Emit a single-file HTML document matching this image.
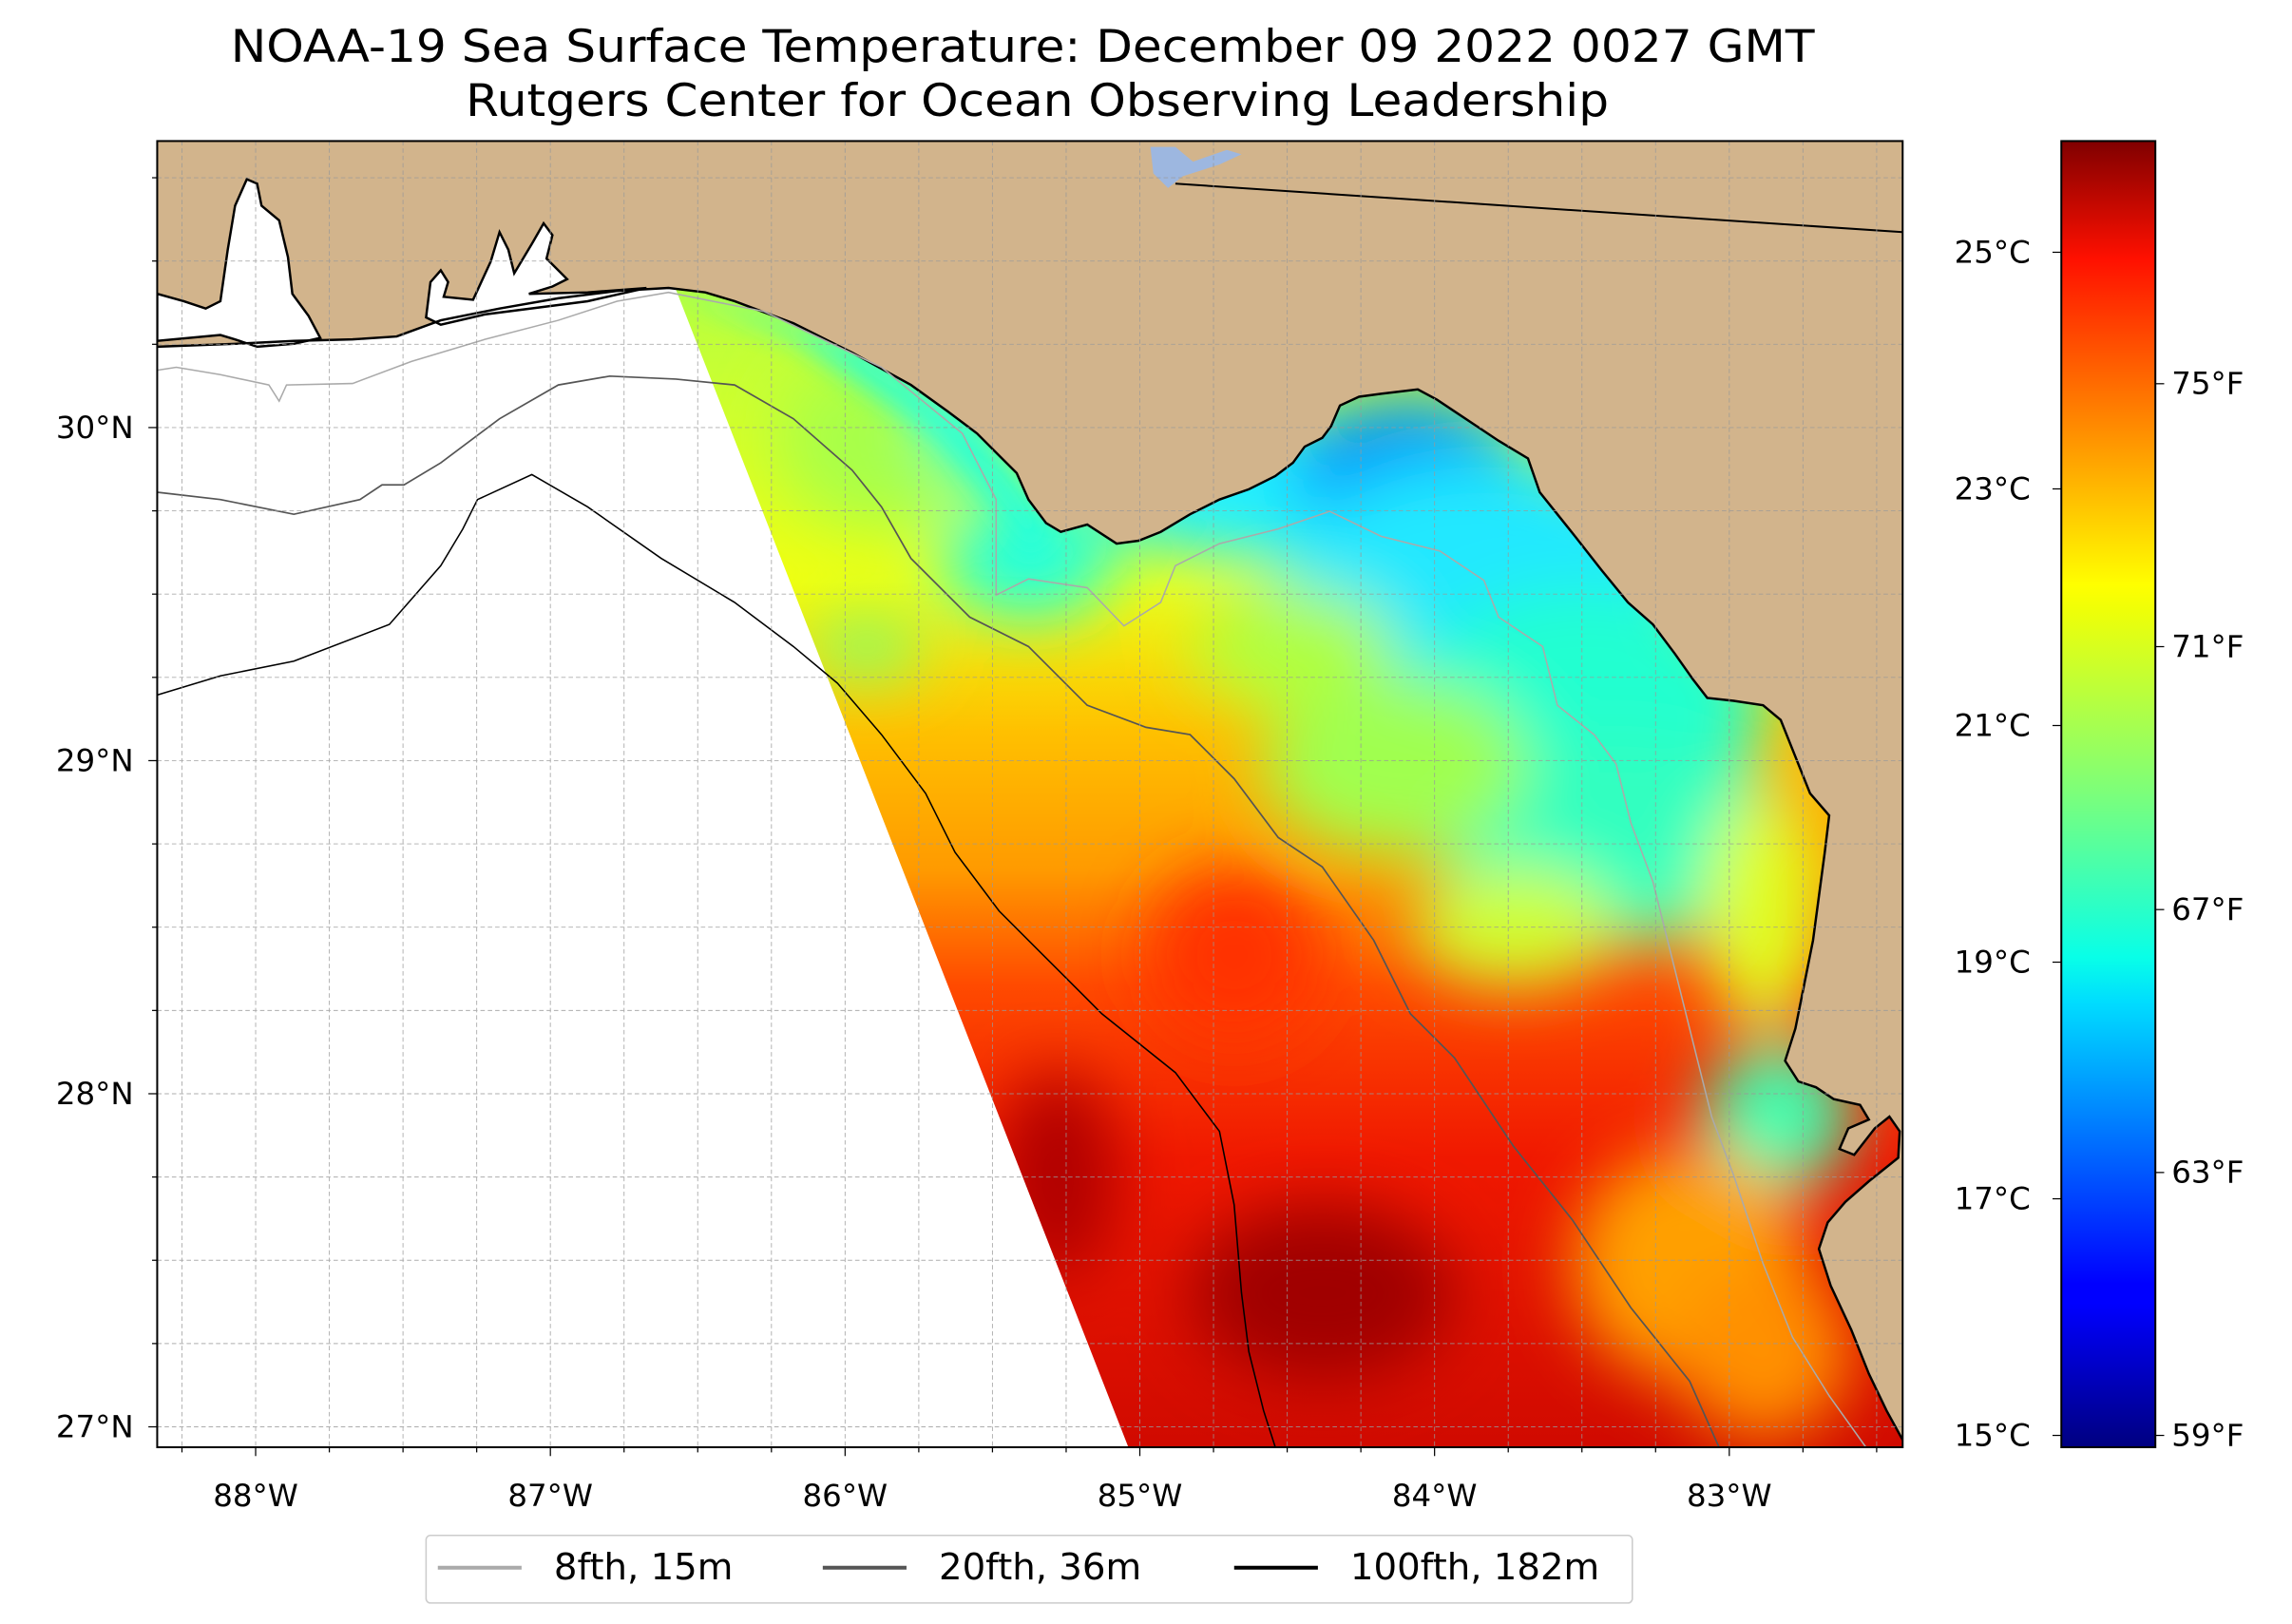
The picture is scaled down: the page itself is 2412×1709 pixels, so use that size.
<!DOCTYPE html>
<html><head><meta charset="utf-8"><style>
html,body{margin:0;padding:0;background:#fff;}
svg{display:block;}
text{font-family:"DejaVu Sans","Liberation Sans",sans-serif;fill:#000;}
</style></head><body>
<svg id="fig" xmlns="http://www.w3.org/2000/svg" width="2412" height="1709" viewBox="0 0 1560 1105.3" preserveAspectRatio="none">
<defs>
<linearGradient id="jet" x1="0" y1="1" x2="0" y2="0">
<stop offset="0" stop-color="#000080"/><stop offset="0.11" stop-color="#0000ff"/><stop offset="0.125" stop-color="#0000ff"/>
<stop offset="0.34" stop-color="#00dcff"/><stop offset="0.375" stop-color="#08ffe8"/><stop offset="0.5" stop-color="#7bff7b"/>
<stop offset="0.64" stop-color="#eeff08"/><stop offset="0.66" stop-color="#ffff00"/><stop offset="0.78" stop-color="#ff8c00"/>
<stop offset="0.91" stop-color="#ff1000"/><stop offset="1" stop-color="#800000"/>
</linearGradient>
<linearGradient id="seaBase" gradientUnits="userSpaceOnUse" x1="0" y1="200" x2="0" y2="985">
<stop offset="0" stop-color="#b8ff40"/><stop offset="0.25" stop-color="#f0ff10"/><stop offset="0.38" stop-color="#ffc000"/>
<stop offset="0.5" stop-color="#ff9a00"/><stop offset="0.6" stop-color="#ff4a00"/><stop offset="0.75" stop-color="#f01800"/><stop offset="1" stop-color="#d00a00"/>
</linearGradient>
<filter id="blur" x="-20%" y="-20%" width="140%" height="140%"><feGaussianBlur stdDeviation="22"/></filter>
<filter id="blur2" x="-20%" y="-20%" width="140%" height="140%"><feGaussianBlur stdDeviation="9"/></filter>
<clipPath id="frameClip"><rect x="107" y="96" width="1188" height="889"/></clipPath>
<clipPath id="swathClip"><path id="swathPath"/></clipPath>
</defs>
<g id="titles">
<text x="696" y="42" font-size="30.5" text-anchor="middle" textLength="1078" lengthAdjust="spacingAndGlyphs">NOAA-19 Sea Surface Temperature: December 09 2022 0027 GMT</text>
<text x="706" y="79" font-size="30.5" text-anchor="middle" textLength="778" lengthAdjust="spacingAndGlyphs">Rutgers Center for Ocean Observing Leadership</text>
</g>
<g id="map" clip-path="url(#frameClip)"></g>
<rect x="107" y="96" width="1188" height="889" fill="none" stroke="#000" stroke-width="1.3"/>
<g id="axes"></g>
<g id="cbar">
<rect x="1403" y="96" width="64" height="889" fill="url(#jet)" stroke="#000" stroke-width="1.3"/>
</g>
<g id="legend">
<rect x="290" y="1045" width="821" height="46" rx="3" fill="#fff" stroke="#ccc" stroke-width="1"/>
</g>
</svg>
<script>
const NS='http://www.w3.org/2000/svg';
// axis data
const lonTicks=[-88,-87,-86,-85,-84,-83];
const lonLabels=['88°W','87°W','86°W','85°W','84°W','83°W'];
const latTicks=[27,28,29,30];
const latLabels=['27°N','28°N','29°N','30°N'];
const cTicks=[15,17,19,21,23,25];
const cLabels=['15°C','17°C','19°C','21°C','23°C','25°C'];
const fTicks=[59,63,67,71,75];
const fLabels=['59°F','63°F','67°F','71°F','75°F'];
const legendNames=['8fth, 15m','20fth, 36m','100fth, 182m'];
const legendColors=['#aaaaaa','#555555','#000000'];
const cMin=14.9, cMax=25.94;

function xOf(lon){return 174+(lon+88)*200.6;}
function yOf(lat){return 291-(lat-30)*226.7;}
function cY(c){return 985-(c-cMin)/(cMax-cMin)*889;}

function mk(tag,attrs,parent){const e=document.createElementNS(NS,tag);for(const k in attrs)e.setAttribute(k,attrs[k]);parent.appendChild(e);return e;}
function pts(a){return a.map(p=>p.join(',')).join(' ');}

const coastEast=[[455,196],[480,199],[500,205],[540,220],[580,240],[620,262],[645,280],[665,295],[680,310],[692,322],[700,340],[712,356],[722,362],[740,357],[760,370],[775,368],[790,362],[810,350],[830,340],[850,333],[868,324],[880,315],[888,304],[900,298],[906,290],[912,276],[925,270],[940,268],[965,265],[978,272],[990,280],[1005,290],[1020,300],[1040,312],[1048,335],[1060,350],[1072,365],[1090,388],[1108,410],[1125,425],[1140,445],[1152,462],[1162,475],[1180,477],[1200,480],[1212,490],[1222,515],[1232,540],[1245,555],[1242,580],[1238,610],[1234,640],[1228,670],[1222,700],[1215,722],[1224,736],[1236,740],[1248,748],[1266,752],[1272,762],[1258,768],[1252,782],[1262,786],[1276,768],[1286,760],[1293,770],[1292,788],[1272,804],[1256,818],[1244,832],[1238,850],[1246,875],[1260,905],[1272,935],[1284,960],[1295,980]];
const coastWest=[[107,236],[160,234],[200,232],[240,231],[270,229],[300,218],[340,210],[380,203],[420,198],[455,196]];
const mobileBay=[[107,200],[125,205],[140,210],[150,205],[155,170],[160,140],[168,122],[175,125],[178,140],[190,150],[196,175],[199,200],[210,215],[218,230],[200,234],[175,236],[160,231],[150,228],[107,232]];
const pensacolaBay=[[290,216],[293,192],[300,184],[305,192],[302,202],[322,204],[334,178],[340,158],[346,170],[350,186],[362,166],[370,152],[376,160],[372,176],[386,190],[376,195],[360,200],[400,199],[440,196],[400,205],[330,214],[300,221]];
const stateLine=[[800,125],[1295,158]];
const lake=[[783,100],[800,100],[812,110],[835,102],[845,105],[830,112],[805,120],[795,128],[785,118]];
const c8=[[107,252],[120,250],[150,255],[183,262],[190,273],[195,262],[240,261],[280,246],[330,231],[380,218],[420,205],[455,199],[520,212],[600,250],[655,295],[678,340],[678,405],[700,394],[740,400],[765,426],[790,410],[800,385],[830,370],[870,360],[905,348],[940,365],[980,375],[1010,395],[1020,420],[1050,440],[1060,480],[1085,500],[1100,520],[1110,560],[1125,600],[1135,640],[1145,680],[1155,720],[1165,760],[1180,800],[1200,860],[1220,910],[1245,950],[1270,985]];
const c20=[[107,335],[150,340],[200,350],[245,340],[260,330],[275,330],[300,315],[340,285],[380,262],[415,256],[460,258],[500,262],[540,285],[580,320],[600,345],[620,380],[660,420],[700,440],[740,480],[780,495],[810,500],[840,530],[870,570],[900,590],[935,640],[960,690],[990,720],[1030,780],[1070,830],[1110,890],[1150,940],[1170,985]];
const c100=[[107,473],[150,460],[200,450],[265,425],[300,385],[315,360],[325,340],[362,323],[400,345],[450,380],[500,410],[540,440],[570,465],[600,500],[630,540],[650,580],[680,620],[710,650],[750,690],[800,730],[830,770],[840,820],[845,880],[850,920],[860,960],[868,985]];
const blobs=[[600,300,70,60,'#a8ff48'],[660,290,30,40,'#40ffc0'],[700,380,60,40,'#20ffe0'],[860,330,120,50,'#20f0ff'],[960,320,80,50,'#0090ff'],[1010,400,140,90,'#20e8ff'],[1080,480,120,80,'#20ffd0'],[1100,570,120,70,'#30ffc0'],[880,440,70,40,'#b0ff40'],[950,520,90,60,'#a0ff50'],[1200,620,40,80,'#e0ff20'],[590,440,40,20,'#80ff70'],[1210,760,50,50,'#40ffb0'],[720,800,40,70,'#b00000'],[900,880,90,60,'#a00000'],[840,650,60,60,'#ff3000'],[1150,860,80,80,'#ffa000'],[1200,920,60,60,'#ff9000'],[1030,630,70,40,'#d0ff30']];

const map=document.getElementById('map');
const landPts=[[107,96],[1295,96],[1295,985]].concat(coastEast.slice().reverse()).concat(coastWest.slice().reverse());
const land=mk('polygon',{points:pts(landPts),fill:'#d2b48c'},map);


const swath=[[460,197]].concat(coastEast.slice(1)).concat([[1295,985],[768,985]]);
document.getElementById('swathPath').setAttribute('d','M'+swath.map(p=>p.join(',')).join('L')+'Z');
const sst=mk('g',{'clip-path':'url(#swathClip)'},map);


mk('rect',{x:400,y:180,width:900,height:810,fill:'url(#seaBase)'},sst);
const bg=mk('g',{filter:'url(#blur)'},sst);
blobs.forEach(b=>{
  const e=mk('ellipse',{cx:b[0],cy:b[1],rx:b[2],ry:b[3],fill:b[4]},bg);
  
  
});
mk('polygon',{points:'455,196 600,238 690,318 720,362 700,380 640,300 540,230',fill:'#20ffe0',filter:'url(#blur2)',opacity:'0.8'},sst);
[mobileBay,pensacolaBay].forEach((b,i)=>{
  const p=mk('polygon',{points:pts(b),fill:'#fff',stroke:'#000','stroke-width':1.6},map);
  
  
});
const lk=mk('polygon',{points:pts(lake),fill:'#9db7e0'},map);


const sl=mk('polyline',{points:pts(stateLine),fill:'none',stroke:'#000','stroke-width':1.3},map);


const cl=mk('polyline',{points:pts(coastWest.concat(coastEast.slice(1))),fill:'none',stroke:'#000','stroke-width':1.6},map);


[[c8,'#aaaaaa',1,'contour-8fth'],[c20,'#555555',1.1,'contour-20fth'],[c100,'#000000',1,'contour-100fth']].forEach(c=>{
  const l=mk('polyline',{points:pts(c[0]),fill:'none',stroke:c[1],'stroke-width':c[2]},map);
  
  
});
const grid=mk('g',{stroke:'#999','stroke-width':0.6,'stroke-dasharray':'3,2',opacity:'0.8'},map);
for(let lon=-88.25;lon<=-82.45;lon+=0.25){const x=xOf(lon);const g=mk('line',{x1:x,y1:96,x2:x,y2:985},grid);}
for(let lat=27;lat<=30.86;lat+=0.25){const y=yOf(lat);const g=mk('line',{x1:107,y1:y,x2:1295,y2:y},grid);}

const ax=document.getElementById('axes');
for(let lon=-88.25;lon<=-82.45;lon+=0.25){const x=xOf(lon);const major=Math.abs(lon-Math.round(lon))<1e-6;mk('line',{x1:x,y1:985,x2:x,y2:985+(major?6:3.5),stroke:'#000','stroke-width':0.8},ax);}
for(let lat=27;lat<=30.86;lat+=0.25){const y=yOf(lat);const major=Math.abs(lat-Math.round(lat))<1e-6;mk('line',{x1:107,y1:y,x2:107-(major?6:3.5),y2:y,stroke:'#000','stroke-width':0.8},ax);}
lonTicks.forEach((v,i)=>{
  const t=mk('text',{x:xOf(v),y:1025,'font-size':21,'text-anchor':'middle'},ax);
  t.textContent=lonLabels[i];
  
  
});
latTicks.forEach((v,i)=>{
  const t=mk('text',{x:91,y:yOf(v)+7,'font-size':21,'text-anchor':'end'},ax);
  t.textContent=latLabels[i];
  
  
});
const cb=document.getElementById('cbar');
cTicks.forEach((v,i)=>{
  const y=cY(v);
  mk('line',{x1:1403,y1:y,x2:1397,y2:y,stroke:'#000','stroke-width':0.8},cb);
  const t=mk('text',{x:1382,y:y+7,'font-size':21,'text-anchor':'end'},cb);
  t.textContent=cLabels[i];
  
  
});
fTicks.forEach((v,i)=>{
  const y=cY((v-32)*5/9);
  mk('line',{x1:1467,y1:y,x2:1473,y2:y,stroke:'#000','stroke-width':0.8},cb);
  const t=mk('text',{x:1478,y:y+7,'font-size':21},cb);
  t.textContent=fLabels[i];
  
  
});
const lg=document.getElementById('legend');
const lgX=[298,560,840];
legendNames.forEach((n,i)=>{
  const l=mk('line',{x1:lgX[i],y1:1067,x2:lgX[i]+57,y2:1067,stroke:legendColors[i],'stroke-width':2.6},lg);
  
  
  const t=mk('text',{x:lgX[i]+79,y:1075,'font-size':25},lg);
  t.textContent=n;
  
  
});
</script>
</body></html>
